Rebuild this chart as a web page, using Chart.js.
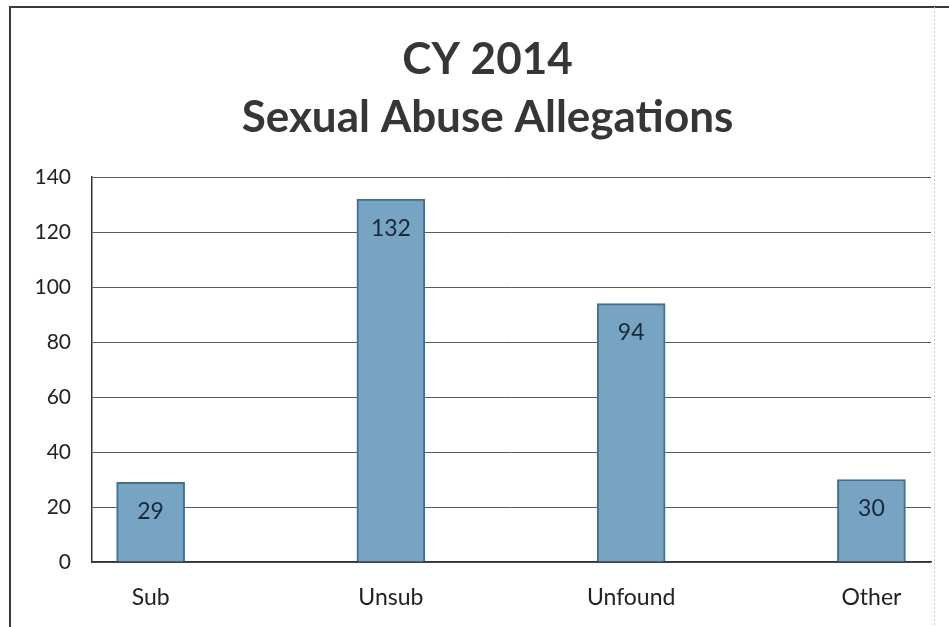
<!DOCTYPE html>
<html>
<head>
<meta charset="utf-8">
<script src="https://cdn.jsdelivr.net/npm/chart.js@4.4.1/dist/chart.umd.min.js"></script>
<style>
  html, body { margin: 0; padding: 0; background: #ffffff; }
  #wrap { width: 949px; height: 627px; position: relative; }
  canvas { display: block; }
</style>
</head>
<body>
<div id="wrap"><canvas id="c" width="949" height="627"></canvas></div>
<script>
const categories = ['Sub', 'Unsub', 'Unfound', 'Other'];
const values = [29, 132, 94, 30];
const yTicks = [0, 20, 40, 60, 80, 100, 120, 140];
const titleLines = ['CY 2014', 'Sexual Abuse Allegations'];

const points = categories.map((c, i) => ({ x: i, y: values[i] }));

const framePlugin = {
  id: 'frame',
  afterLayout(chart) {
    if (chart.titleBlock) {
      chart.titleBlock.left += 17;
      chart.titleBlock.right += 17;
    }
  },
  beforeDraw(chart) {
    const ctx = chart.ctx;
    ctx.save();
    ctx.fillStyle = '#ffffff';
    ctx.fillRect(0, 0, chart.width, chart.height);
    ctx.strokeStyle = '#3a3a3a';
    ctx.lineWidth = 2;
    ctx.beginPath();
    ctx.moveTo(10, chart.height);
    ctx.lineTo(10, 7);
    ctx.lineTo(chart.width, 7);
    ctx.stroke();
    ctx.strokeStyle = '#c8c8c8';
    ctx.lineWidth = 1;
    ctx.setLineDash([2, 2]);
    ctx.beginPath();
    ctx.moveTo(934.5, 7);
    ctx.lineTo(934.5, chart.height);
    ctx.stroke();
    ctx.restore();
  }
};

const labelPlugin = {
  id: 'barLabels',
  afterDatasetsDraw(chart) {
    const ctx = chart.ctx;
    const meta = chart.getDatasetMeta(0);
    ctx.save();
    ctx.font = '23px Lato';
    ctx.fillStyle = '#1a283a';
    ctx.textAlign = 'center';
    ctx.textBaseline = 'middle';
    meta.data.forEach((bar, i) => {
      ctx.fillText(String(values[i]), bar.x, bar.y + 29);
    });
    ctx.restore();
  }
};

new Chart(document.getElementById('c'), {
  type: 'bar',
  data: {
    datasets: [{
      data: points,
      backgroundColor: '#77a4c2',
      borderColor: '#41708f',
      borderWidth: 2,
      barThickness: 68
    }]
  },
  options: {
    responsive: false,
    animation: false,
    layout: { padding: { left: 10, right: 18, top: 0, bottom: 0 } },
    plugins: {
      legend: { display: false },
      tooltip: { enabled: false },
      title: {
        display: true,
        text: titleLines,
        color: '#363636',
        font: { family: 'Lato', size: 44, weight: 'bold', lineHeight: 1.32 },
        padding: { top: 31, bottom: 30 }
      }
    },
    scales: {
      x: {
        type: 'linear',
        offset: false,
        min: -0.244,
        max: 3.248,
        afterBuildTicks(scale) {
          scale.ticks = categories.map((c, i) => ({ value: i }));
        },
        afterFit(scale) { scale.height = 65; },
        grid: { display: false, drawTicks: false, offset: false },
        border: { display: true, color: '#333333', width: 1.5 },
        ticks: {
          padding: 22,
          color: '#222222',
          font: { family: 'Lato', size: 23 },
          callback: (v) => categories[v]
        }
      },
      y: {
        min: 0,
        max: 140,
        afterBuildTicks(scale) {
          scale.ticks = yTicks.map(v => ({ value: v }));
        },
        afterFit(scale) { scale.width = 82; },
        grid: { color: '#5a5a5a', lineWidth: 1, drawTicks: false },
        border: { display: true, color: '#333333', width: 1.5 },
        ticks: {
          padding: 21,
          color: '#222222',
          font: { family: 'Lato', size: 21 }
        }
      }
    }
  },
  plugins: [framePlugin, labelPlugin]
});
</script>
</body>
</html>
